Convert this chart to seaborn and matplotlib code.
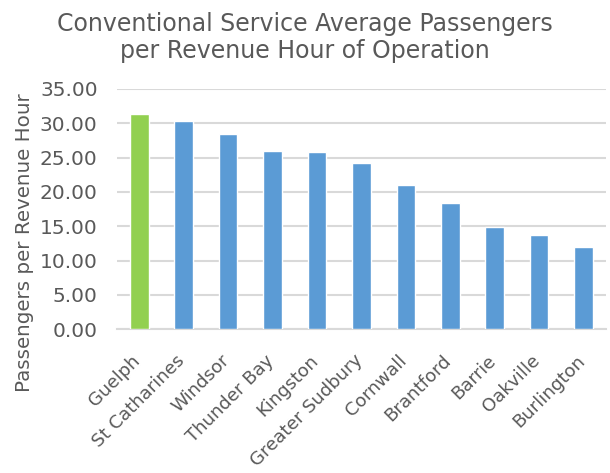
import matplotlib
matplotlib.use("Agg")
import matplotlib.pyplot as plt
import matplotlib.transforms as mtransforms
import seaborn as sns
import pandas as pd

cities = ["Guelph", "St Catharines", "Windsor", "Thunder Bay", "Kingston",
          "Greater Sudbury", "Cornwall", "Brantford", "Barrie", "Oakville", "Burlington"]
values = [31.3, 30.3, 28.4, 26.0, 25.8, 24.25, 21.05, 18.4, 14.9, 13.75, 12.0]
bar_colors = ["#92D050"] + ["#5B9BD5"] * 10
y_ticks = [0, 5, 10, 15, 20, 25, 30, 35]

sns.set_style("white")
plt.rcParams['font.family'] = ['DejaVu Sans']
text_color = "#595959"

df = pd.DataFrame({"city": cities, "value": values})
fig = plt.figure(figsize=(6.10, 4.73), dpi=100)
ax = fig.add_axes([0.192, 0.304, 0.801, 0.508])
sns.barplot(data=df, x="city", y="value", hue="city", palette=bar_colors,
            legend=False, width=0.42, ax=ax, saturation=1, zorder=3)

ax.set_ylim(0, 35)
ax.set_yticks(y_ticks)
ax.set_yticklabels([f"{t:.2f}" for t in y_ticks], color=text_color, fontsize=14.5)
ax.yaxis.grid(True, color="#D9D9D9", linewidth=1.5, zorder=0)
ax.set_axisbelow(True)
for s in ["top", "right", "left"]:
    ax.spines[s].set_visible(False)
ax.spines["bottom"].set_color("#D9D9D9")
ax.spines["bottom"].set_linewidth(1.5)
ax.tick_params(axis="y", length=0, pad=14)
ax.set_xlabel("")
ax.set_ylabel("Passengers per Revenue Hour", color=text_color, fontsize=14.3)
ax.yaxis.set_label_coords(-0.17, 0.36)
ax.set_xticks(range(len(cities)))
ax.set_xticklabels(cities, rotation=45, ha="right", va="top", rotation_mode="anchor",
                   color=text_color, fontsize=13.1)
ax.tick_params(axis="x", length=0, pad=16)
ax.set_xlim(-0.5, len(cities) - 0.5)
shift = mtransforms.ScaledTranslation(-8 / 100, 0, fig.dpi_scale_trans)
for lab in ax.get_xticklabels():
    lab.set_transform(lab.get_transform() + shift)

fig.text(0.5, 0.975, "Conventional Service Average Passengers\nper Revenue Hour of Operation",
         ha="center", va="top", fontsize=17, color=text_color, linespacing=1.15)

fig.savefig("out.png", dpi=100)
